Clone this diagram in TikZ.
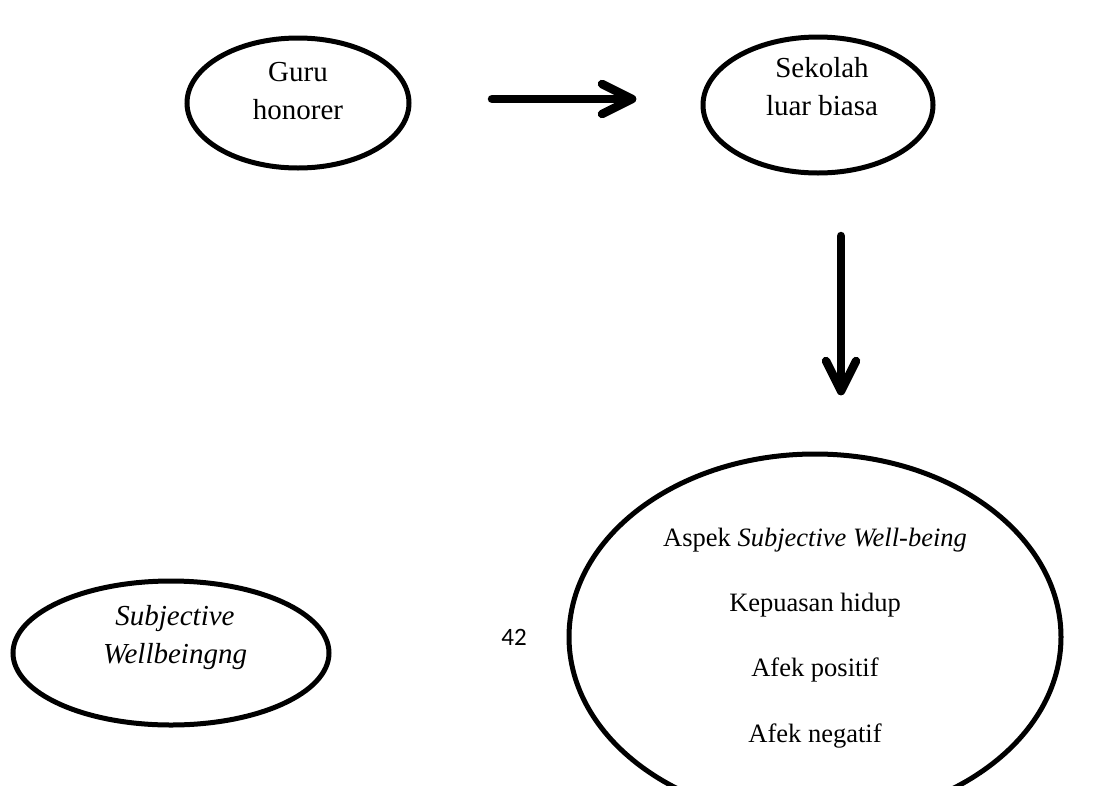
\documentclass[tikz,border=0pt]{standalone}
\usepackage{fontspec}
\setmainfont{Liberation Serif}
\newfontfamily\numfont{Carlito}
\usetikzlibrary{shapes.geometric,calc}
\tikzset{
  oval/.style={draw=black, line width=5pt, ellipse, inner sep=0pt},
  lbl/.style={align=center, inner sep=0pt, font=\fontsize{29}{38}\selectfont},
  biglbl/.style={align=center, inner sep=0pt, font=\fontsize{26.5}{32}\selectfont},
  flowline/.style={line width=8.5pt, line cap=round, line join=round},
}
\begin{document}
\begin{tikzpicture}[x=1pt,y=-1pt]
\useasboundingbox (0,0) rectangle (1119,785);
\clip (0,0) rectangle (1119,785);
% ellipses
\node[oval, minimum width=222pt, minimum height=130pt] (guru) at (298,103) {};
\node[oval, minimum width=230pt, minimum height=136pt] (slb) at (818,105) {};
\node[oval, minimum width=316pt, minimum height=144pt] (swb) at (171,653) {};
\node[oval, minimum width=492pt, minimum height=366pt] (aspek) at (815,637) {};
% texts
\node[lbl] (tguru) at (298,91) {Guru\\honorer};
\node[lbl] (tslb) at (822,87) {Sekolah\\luar biasa};
\node[lbl, font=\fontsize{29}{38}\selectfont\itshape] (tswb) at (175,638) {Subjective\\Wellbeingng};
\node[biglbl] (t1) at (815,540) {Aspek \textit{Subjective Well-being}};
\node[biglbl] (t2) at (815,605) {Kepuasan hidup};
\node[biglbl] (t3) at (815,670) {Afek positif};
\node[biglbl] (t4) at (815,736) {Afek negatif};
\node[inner sep=0pt, font=\numfont\fontsize{25}{30}\selectfont] (pg) at (514,637) {42};
% connectors
\coordinate (a1s) at (492,99);
\coordinate (a1e) at (632,99);
\coordinate (a2s) at (841,236);
\coordinate (a2e) at (841,391);
\draw[flowline] (a1s) -- (a1e);
\draw[flowline] ($(a1e)+(-30,-15)$) -- (a1e) -- ($(a1e)+(-30,15)$);
\draw[flowline] (a2s) -- (a2e);
\draw[flowline] ($(a2e)+(-15,-30)$) -- (a2e) -- ($(a2e)+(15,-30)$);
\end{tikzpicture}
\end{document}
